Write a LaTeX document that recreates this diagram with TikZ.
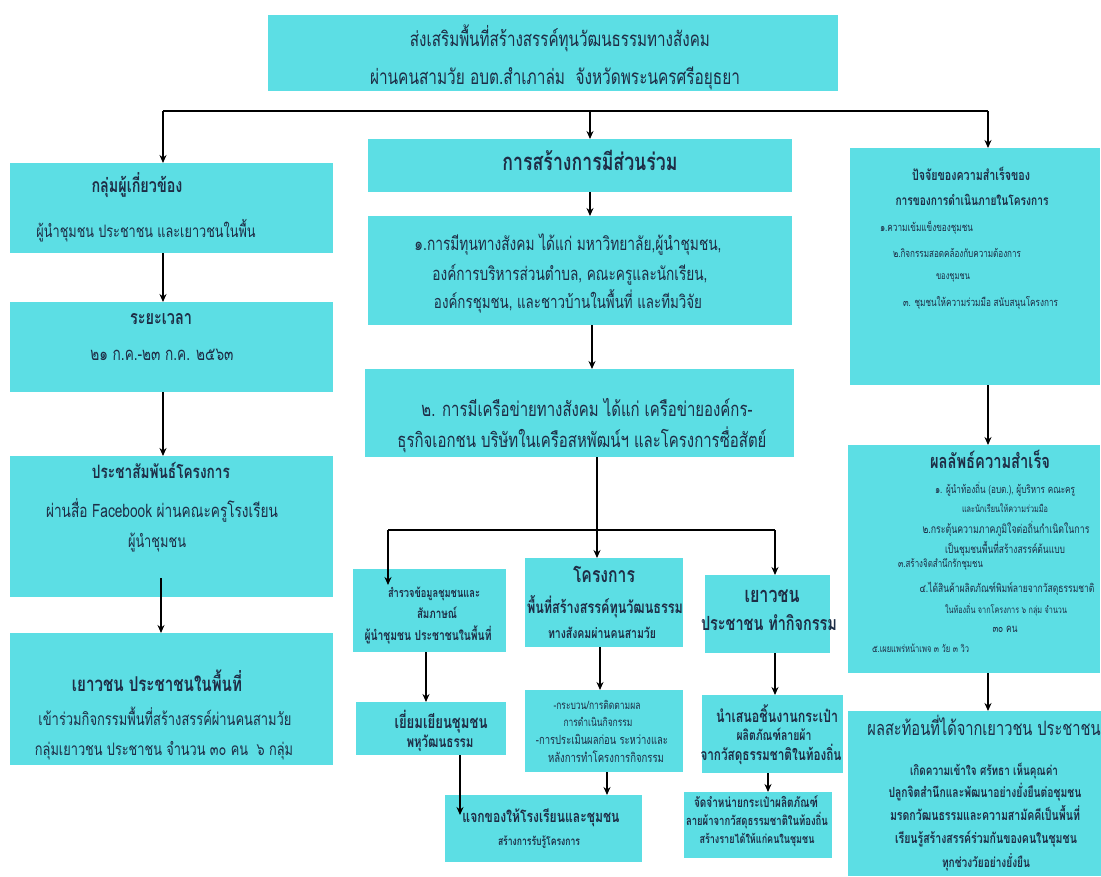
\documentclass[tikz,border=0pt]{standalone}
\usepackage{fontspec}
\setmainfont[Script=Thai]{Loma}
\usepackage{graphicx}
\usetikzlibrary{arrows.meta}
\definecolor{boxc}{RGB}{92,222,228}
\definecolor{txtc}{RGB}{30,45,70}
\tikzset{
  box/.style={fill=boxc,draw=none,inner sep=0pt,outer sep=0pt,anchor=north west},
  arr/.style={draw=black,line width=1.8pt,-{Stealth[length=8pt,width=7pt]}},
  bus/.style={draw=black,line width=1.8pt},
  tb/.style={text=txtc,inner sep=0pt,outer sep=0pt,anchor=base,font=\bfseries},
  tr/.style={text=txtc,inner sep=0pt,outer sep=0pt,anchor=base},
  tbw/.style={tb,anchor=base west},
  trw/.style={tr,anchor=base west},
}
\newcommand\mybox[5]{\node[box,minimum width={(#4-#2)*1pt},minimum height={(#5-#3)*1pt}] (#1) at (#2,#3) {};}
\newcommand\tx[5]{\node[#2] (#1) at (#3) {\scalebox{1}[1.35]{\resizebox{#4pt}{!}{#5}}};}
\begin{document}
\begin{tikzpicture}[x=1pt,y=-1pt]
\fill[white] (0,0) rectangle (1101,876);
\useasboundingbox (0,0) rectangle (1101,876);
% boxes
\mybox{T}{268}{15}{838}{91}
\mybox{L1}{10}{163}{333}{253}
\mybox{L2}{10}{302}{333}{392}
\mybox{L3}{10}{456}{333}{597}
\mybox{L4}{10}{633}{333}{765}
\mybox{M1}{368}{139}{792}{192}
\mybox{M2}{368}{216}{792}{325}
\mybox{M3}{365}{369}{794}{457}
\mybox{B1}{353}{569}{506}{652}
\mybox{B5}{356}{702}{506}{755}
\mybox{B7}{445}{795}{642}{862}
\mybox{B2}{525}{558}{683}{647}
\mybox{B6}{525}{690}{683}{772}
\mybox{B3}{705}{575}{830}{653}
\mybox{B8}{702}{695}{843}{773}
\mybox{B9}{684}{792}{832}{858}
\mybox{R1}{850}{148}{1100}{385}
\mybox{R2}{848}{445}{1100}{673}
\mybox{R3}{848}{711}{1101}{876}
% texts
\tx{t1}{tr}{560,46}{300}{ส่งเสริมพื้นที่สร้างสรรค์ทุนวัฒนธรรมทางสังคม}
\tx{t2}{tr}{555,84}{370}{ผ่านคนสามวัย อบต.สำเภาล่ม\ \ จังหวัดพระนครศรีอยุธยา}
\tx{l1h}{tb}{137,192}{91}{กลุ่มผู้เกี่ยวข้อง}
\tx{l1a}{tr}{146,237}{219}{ผู้นำชุมชน ประชาชน และเยาวชนในพื้น}
\tx{l2h}{tb}{161,324}{62}{ระยะเวลา}
\tx{l2a}{tr}{162,360}{143}{๒๑ ก.ค.-๒๓ ก.ค. ๒๕๖๓}
\tx{l3h}{tb}{161,478}{138}{ประชาสัมพันธ์โครงการ}
\tx{l3a}{tr}{162,517}{232}{ผ่านสื่อ Facebook ผ่านคณะครูโรงเรียน}
\tx{l3b}{tr}{157,547}{58}{ผู้นำชุมชน}
\tx{l4h}{tb}{157,691}{170}{เยาวชน ประชาชนในพื้นที่}
\tx{l4a}{tr}{165,725}{253}{เข้าร่วมกิจกรรมพื้นที่สร้างสรรค์ผ่านคนสามวัย}
\tx{l4b}{tr}{164,755}{258}{กลุ่มเยาวชน ประชาชน จำนวน ๓๐ คน\ \ ๖ กลุ่ม}
\tx{m1h}{tb}{590,170}{175}{การสร้างการมีส่วนร่วม}
\tx{m2a}{tr}{568,250}{307}{๑.การมีทุนทางสังคม ได้แก่ มหาวิทยาลัย,ผู้นำชุมชน,}
\tx{m2b}{tr}{570,280}{275}{องค์การบริหารส่วนตำบล, คณะครูและนักเรียน,}
\tx{m2c}{tr}{568,308}{268}{องค์กรชุมชน, และชาวบ้านในพื้นที่ และทีมวิจัย}
\tx{m3a}{tr}{587,416}{331}{๒. การมีเครือข่ายทางสังคม ได้แก่ เครือข่ายองค์กร-}
\tx{m3b}{tr}{582,447}{369}{ธุรกิจเอกชน บริษัทในเครือสหพัฒน์ฯ และโครงการซื่อสัตย์}
\tx{b1a}{tb}{434,597}{92}{สำรวจข้อมูลชุมชนและ}
\tx{b1b}{tb}{437,618}{40}{สัมภาษณ์}
\tx{b1c}{tb}{428,640}{127}{ผู้นำชุมชน ประชาชนในพื้นที่}
\tx{b5a}{tb}{441,728}{93}{เยี่ยมเยียนชุมชน}
\tx{b5b}{tb}{440,747}{67}{พหุวัฒนธรรม}
\tx{b7a}{tb}{541,822}{157}{แจกของให้โรงเรียนและชุมชน}
\tx{b7b}{tb}{539,845}{82}{สร้างการรับรู้โครงการ}
\tx{b2a}{tb}{604,582}{62}{โครงการ}
\tx{b2b}{tb}{605,613}{156}{พื้นที่สร้างสรรค์ทุนวัฒนธรรม}
\tx{b2c}{tb}{602,638}{108}{ทางสังคมผ่านคนสามวัย}
\tx{b6a}{tr}{597,709}{87}{-กระบวน/การติดตามผล}
\tx{b6b}{tr}{598,726}{69}{การดำเนินกิจกรรม}
\tx{b6c}{tr}{602,744}{132}{-การประเมินผลก่อน ระหว่างและ}
\tx{b6d}{tr}{606,762}{116}{หลังการทำโครงการกิจกรรม}
\tx{b3a}{tb}{772,602}{55}{เยาวชน}
\tx{b3b}{tb}{769,630}{136}{ประชาชน ทำกิจกรรม}
\tx{b8a}{tb}{777,722}{122}{นำเสนอชิ้นงานกระเป๋า}
\tx{b8b}{tb}{774,740}{75}{ผลิตภัณฑ์ลายผ้า}
\tx{b8c}{tb}{771,760}{141}{จากวัสดุธรรมชาติในท้องถิ่น}
\tx{b9a}{tb}{756,807}{124}{จัดจำหน่ายกระเป๋าผลิตภัณฑ์}
\tx{b9b}{tb}{757,825}{142}{ลายผ้าจากวัสดุธรรมชาติในท้องถิ่น}
\tx{b9c}{tb}{757,843}{115}{สร้างรายได้ให้แก่คนในชุมชน}
\tx{r1h}{tb}{971,180}{118}{ปัจจัยของความสำเร็จของ}
\tx{r1i}{tb}{972,205}{153}{การของการดำเนินภายในโครงการ}
\tx{r1a}{trw}{880,231}{93}{๑.ความเข้มแข็งของชุมชน}
\tx{r1b}{trw}{893,257}{128}{๒.กิจกรรมสอดคล้องกับความต้องการ}
\tx{r1c}{tr}{953,279}{34}{ของชุมชน}
\tx{r1d}{trw}{903,306}{155}{๓. ชุมชนให้ความร่วมมือ สนับสนุนโครงการ}
\tx{r2h}{tb}{990,468}{120}{ผลลัพธ์ความสำเร็จ}
\tx{r2a}{tr}{1005,493}{140}{๑. ผู้นำท้องถิ่น (อบต.), ผู้บริหาร คณะครู}
\tx{r2b}{tr}{1005,512}{86}{และนักเรียนให้ความร่วมมือ}
\tx{r2c}{tr}{1006,533}{167}{๒.กระตุ้นความภาคภูมิใจต่อถิ่นกำเนิดในการ}
\tx{r2d}{tr}{1005,553}{120}{เป็นชุมชนพื้นที่สร้างสรรค์ต้นแบบ}
\tx{r2e}{trw}{898,567}{85}{๓.สร้างจิตสำนึกรักชุมชน}
\tx{r2f}{tr}{1007,592}{175}{๔.ได้สินค้าผลิตภัณฑ์พิมพ์ลายจากวัสดุธรรมชาติ}
\tx{r2g}{tr}{1006,613}{122}{ในท้องถิ่น จากโครงการ ๖ กลุ่ม จำนวน}
\tx{r2i}{tr}{1005,632}{25}{๓๐ คน}
\tx{r2j}{trw}{872,652}{97}{๕.เผยแพร่หน้าเพจ ๓ วัย ๓ วิว}
\tx{r3h}{tr}{984,735}{233}{ผลสะท้อนที่ได้จากเยาวชน ประชาชน}
\tx{r3a}{tb}{984,775}{148}{เกิดความเข้าใจ ศรัทธา เห็นคุณค่า}
\tx{r3b}{tb}{985,797}{193}{ปลูกจิตสำนึกและพัฒนาอย่างยั่งยืนต่อชุมชน}
\tx{r3c}{tb}{985,820}{190}{มรดกวัฒนธรรมและความสามัคคีเป็นพื้นที่}
\tx{r3d}{tb}{986,843}{182}{เรียนรู้สร้างสรรค์ร่วมกันของคนในชุมชน}
\tx{r3e}{tb}{986,867}{88}{ทุกช่วงวัยอย่างยั่งยืน}
% connector coordinates
\coordinate (busL) at (163,111);
\coordinate (busR) at (988,111);
\coordinate (xm) at (590,0);
\coordinate (xm2) at (592,0);
\coordinate (xl) at (163,0);
\coordinate (l3start) at (161,578);
\coordinate (xb2) at (597,0);
\coordinate (bB1) at (388,530);
\coordinate (bB3) at (775,530);
\coordinate (tipB1) at (388,585);
\coordinate (x426) at (426,0);
\coordinate (x460) at (460,0);
\coordinate (tipB7) at (460,815);
\coordinate (x600) at (600,0);
\coordinate (x607) at (607,0);
\coordinate (x775) at (775,0);
\coordinate (x768) at (768,0);
% connectors
\draw[bus] (busL) -- (busR);
\draw[arr] (busL) -- (L1.north -| busL);
\draw[arr] (busL -| xm) -- (M1.north -| xm);
\draw[arr] (busR) -- (R1.north -| busR);
\draw[arr] (L1.south -| xl) -- (L2.north -| xl);
\draw[arr] (L2.south -| xl) -- (L3.north -| xl);
\draw[arr] (l3start) -- (L4.north -| l3start);
\draw[arr] (M1.south -| xm) -- (M2.north -| xm);
\draw[arr] (M2.south -| xm2) -- (M3.north -| xm2);
\draw[arr] (M3.south -| xb2) -- (B2.north -| xb2);
\draw[bus] (bB1) -- (bB3);
\draw[arr] (bB1) -- (tipB1);
\draw[arr] (bB3) -- (B3.north -| bB3);
\draw[arr] (B1.south -| x426) -- (B5.north -| x426);
\draw[arr] (B5.south -| x460) -- (tipB7);
\draw[arr] (B2.south -| x600) -- (B6.north -| x600);
\draw[arr] (B6.south -| x607) -- (B7.north -| x607);
\draw[arr] (B3.south -| x775) -- (B8.north -| x775);
\draw[arr] (B8.south -| x768) -- (B9.north -| x768);
\draw[arr] (R1.south -| busR) -- (R2.north -| busR);
\draw[arr] (R2.south -| busR) -- (R3.north -| busR);
\end{tikzpicture}
\end{document}
